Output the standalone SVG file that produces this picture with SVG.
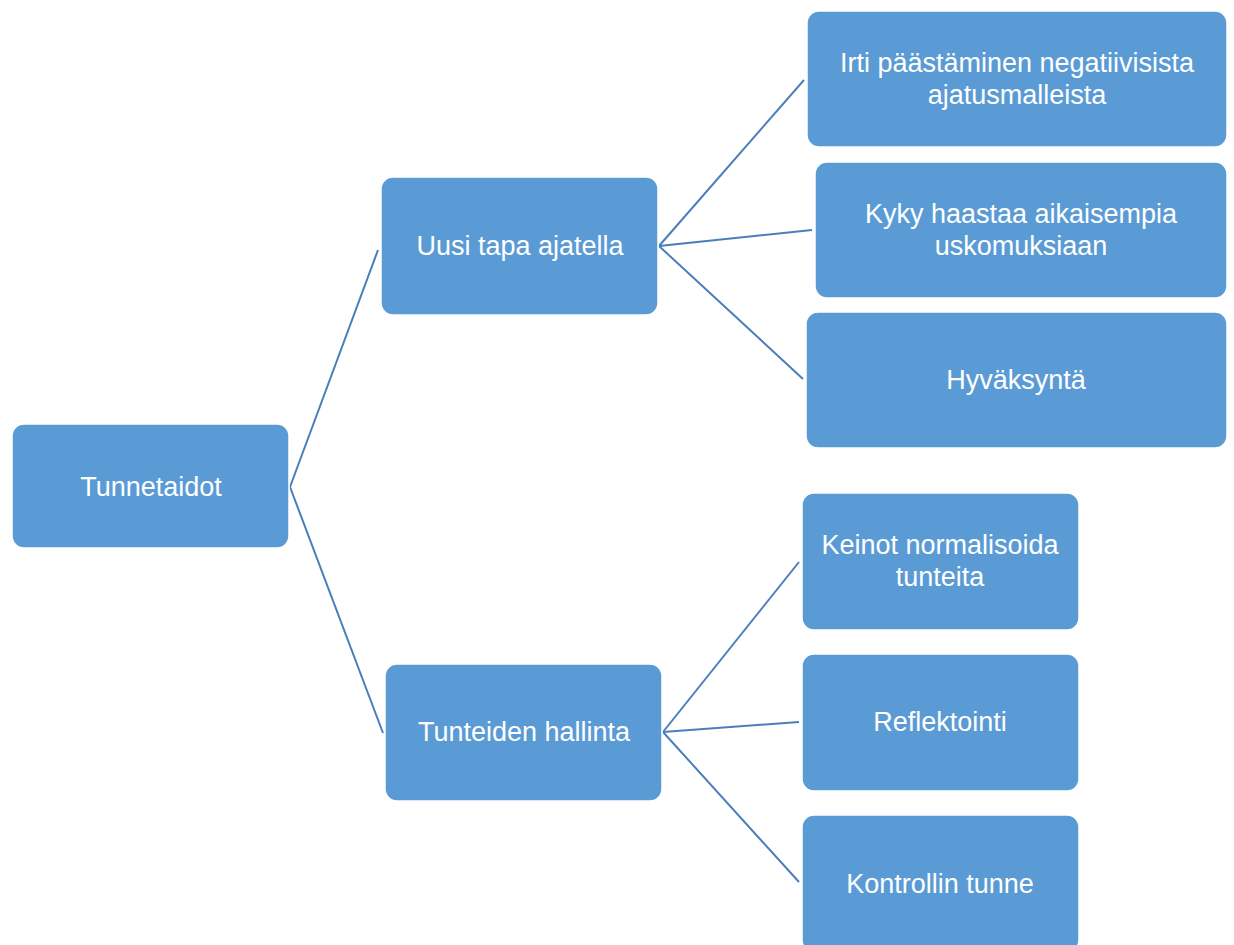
<svg xmlns="http://www.w3.org/2000/svg" width="1234" height="945" viewBox="0 0 1234 945">
  <style>
    .box { fill: #5B9BD5; stroke: #ffffff; stroke-width: 1.5; }
    .lbl { fill: #ffffff; font-family: "Liberation Sans", Arial, sans-serif; font-size: 27px; text-anchor: middle; }
    .link { stroke: #4A7EBB; stroke-width: 2; fill: none; }
  </style>
  <rect width="1234" height="945" fill="#ffffff"/>

  <!-- connectors -->
  <g id="connectors">
    <path class="link" d="M290 487 L378 250"/>
    <path class="link" d="M290 487 L383 733"/>
    <path class="link" d="M659 246 L804 80"/>
    <path class="link" d="M659 246 L812 230"/>
    <path class="link" d="M659 246 L803 379"/>
    <path class="link" d="M663 732 L799 562"/>
    <path class="link" d="M663 732 L799 722"/>
    <path class="link" d="M663 732 L799 882"/>
  </g>

  <!-- root -->
  <g id="tunnetaidot">
    <rect class="box" x="12" y="424" width="277" height="124" rx="12"/>
    <text class="lbl" x="151" y="496">Tunnetaidot</text>
  </g>

  <!-- second level -->
  <g id="uusi-tapa-ajatella">
    <rect class="box" x="381" y="177" width="277" height="138" rx="12"/>
    <text class="lbl" x="520" y="255">Uusi tapa ajatella</text>
  </g>
  <g id="tunteiden-hallinta">
    <rect class="box" x="385" y="664" width="277" height="137" rx="12"/>
    <text class="lbl" x="524" y="741">Tunteiden hallinta</text>
  </g>

  <!-- third level: thinking -->
  <g id="irti-paastaminen">
    <rect class="box" x="807" y="11" width="420" height="136" rx="12"/>
    <text class="lbl" x="1017" y="72">Irti päästäminen negatiivisista</text>
    <text class="lbl" x="1017" y="104">ajatusmalleista</text>
  </g>
  <g id="kyky-haastaa">
    <rect class="box" x="815" y="162" width="412" height="136" rx="12"/>
    <text class="lbl" x="1021" y="223">Kyky haastaa aikaisempia</text>
    <text class="lbl" x="1021" y="255">uskomuksiaan</text>
  </g>
  <g id="hyvaksynta">
    <rect class="box" x="806" y="312" width="421" height="136" rx="12"/>
    <text class="lbl" x="1016" y="389">Hyväksyntä</text>
  </g>

  <!-- third level: emotions -->
  <g id="keinot-normalisoida">
    <rect class="box" x="802" y="493" width="277" height="137" rx="12"/>
    <text class="lbl" x="940" y="554">Keinot normalisoida</text>
    <text class="lbl" x="940" y="586">tunteita</text>
  </g>
  <g id="reflektointi">
    <rect class="box" x="802" y="654" width="277" height="137" rx="12"/>
    <text class="lbl" x="940" y="731">Reflektointi</text>
  </g>
  <g id="kontrollin-tunne">
    <rect class="box" x="802" y="815" width="277" height="137" rx="12"/>
    <text class="lbl" x="940" y="893">Kontrollin tunne</text>
  </g>
</svg>
